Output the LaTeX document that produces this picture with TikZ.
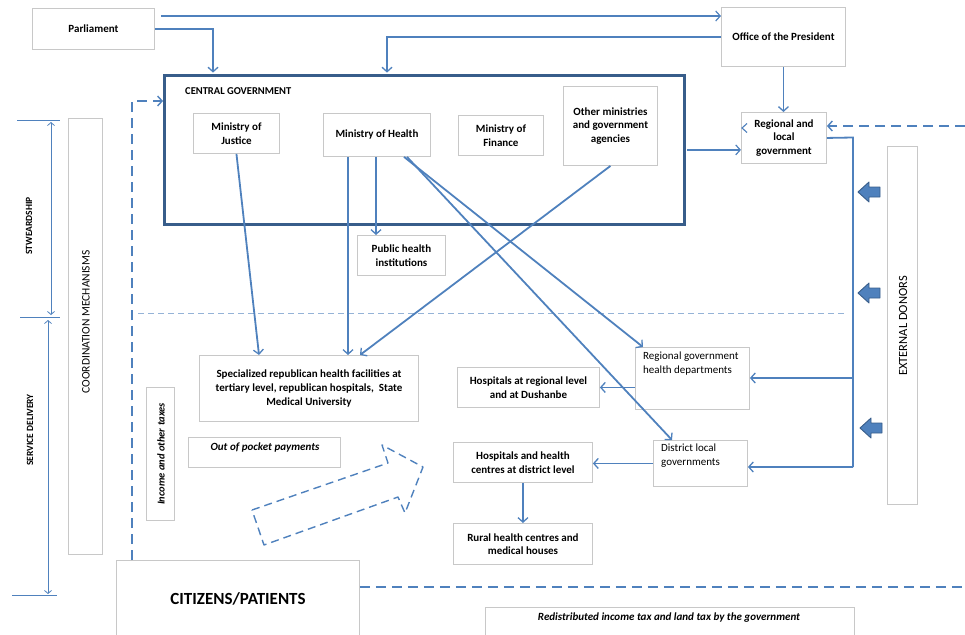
\documentclass[tikz,border=0pt]{standalone}
\usepackage{fontspec}
\setmainfont{Carlito}
\usetikzlibrary{arrows.meta}
\definecolor{lineblue}{RGB}{79,129,189}
\definecolor{darkblue}{RGB}{56,93,138}
\definecolor{boxgray}{RGB}{200,200,200}
\definecolor{lightdash}{RGB}{149,179,215}
\tikzset{
  box/.style={draw=boxgray, line width=0.9pt, fill=white, inner sep=2pt, anchor=north west,
    font=\bfseries\fontsize{11}{13.5}\selectfont, align=center},
  conn/.style={draw=lineblue, line width=1.8pt, -{Straight Barb[length=4.5pt,width=10pt,line width=1.3pt]}},
  thinconn/.style={draw=lineblue, line width=1.4pt, -{Straight Barb[length=4.5pt,width=10pt,line width=1.2pt]}},
  dconn/.style={draw=lineblue, line width=1.8pt, dash pattern=on 10pt off 6pt, -{Straight Barb[length=4.5pt,width=10pt,line width=1.4pt]}},
  plain/.style={draw=lineblue, line width=1.8pt},
  scaleline/.style={draw=lineblue, line width=0.8pt},
  scalearrow/.style={draw=lineblue, line width=0.8pt, {Straight Barb[length=3pt,width=7pt]}-{Straight Barb[length=3pt,width=7pt]}},
  donorarrow/.style={fill=lineblue, draw=darkblue, line width=0.9pt, line join=round},
  sidetext/.style={rotate=90, font=\bfseries\fontsize{9.5}{11}\selectfont},
}
\newcommand{\donorarrowat}[2]{%
  \filldraw[donorarrow] (#1,#2) -- ++(11,-10) -- ++(0,5) -- ++(11,0) -- ++(0,10) -- ++(-11,0) -- ++(0,5) -- cycle;}
\begin{document}
\begin{tikzpicture}[x=1pt,y=-1pt]
\useasboundingbox (0,0) rectangle (965,634);
\begin{scope}
\clip (0,0) rectangle (965,634);
% left scale marks
\draw[scaleline] (17,120) -- (60,120);
\draw[scaleline] (20,317) -- (60,317);
\draw[scaleline] (12,595) -- (57,595);
\draw[scalearrow] (51,122) -- (51,315);
\draw[scalearrow] (48,320) -- (48,594);
\node[sidetext] (stw) at (29,226) {STWEARDSHIP};
\node[sidetext] (sd) at (30,430) {SERVICE DELIVERY};
% coordination
\node[box, minimum width=34pt, minimum height=436pt] (coord) at (68,118) {};
\node[rotate=90, font=\fontsize{11.5}{13}\selectfont] (coordt) at (86,322) {COORDINATION MECHANISMS};
% light dashed separator
\coordinate (sepl) at (138,313);
\coordinate (sepr) at (845,313);
\draw[lightdash, line width=1pt, dash pattern=on 6pt off 4pt] (sepl) -- (sepr);
% boxes
\node[box, minimum width=122pt, minimum height=41pt] (parl) at (32,8) {Parliament};
\node[box, minimum width=124pt, minimum height=59pt] (office) at (721,7) {Office of the President};
\node[draw=darkblue, line width=2.8pt, anchor=north west, minimum width=520pt, minimum height=149pt] (cg) at (163,74) {};
\node[anchor=west, inner sep=0pt, font=\bfseries\fontsize{10.5}{12}\selectfont] (cgt) at (185,91) {CENTRAL GOVERNMENT};
\node[box, minimum width=86pt, minimum height=40pt] (just) at (193,113) {Ministry of\\Justice};
\node[box, minimum width=107pt, minimum height=43pt] (moh) at (323,113) {Ministry of Health};
\node[box, minimum width=85pt, minimum height=40pt] (fin) at (458,115) {Ministry of\\Finance};
\node[box, minimum width=94pt, minimum height=79pt] (other) at (563,86) {Other ministries\\and government\\agencies};
\node[box, minimum width=85pt, minimum height=51pt] (rlg) at (741,112) {Regional and\\local\\government};
\node[box, minimum width=88pt, minimum height=40pt] (phi) at (357,235) {Public health\\institutions};
\node[box, minimum width=219pt, minimum height=66pt, font=\bfseries\fontsize{11}{14}\selectfont] (spec) at (199,355) {Specialized republican health facilities at\\tertiary level, republican hospitals,\ \ State\\Medical University};
\node[box, minimum width=152pt, minimum height=30pt] (oop) at (188,437) {};
\node[font=\bfseries\itshape\fontsize{11}{13}\selectfont] (oopt) at (265,447) {Out of pocket payments};
\node[box, minimum width=28pt, minimum height=133pt] (inc) at (146,387) {};
\node[rotate=90, font=\bfseries\itshape\fontsize{10.5}{12}\selectfont] (inct) at (161,454) {Income and other taxes};
\node[box, minimum width=142pt, minimum height=40pt] (hrl) at (457,367) {Hospitals at regional level\\and at Dushanbe};
\node[box, minimum width=114pt, minimum height=62pt] (rghd) at (635,347) {};
\node[anchor=north west, align=left, inner sep=0pt, font=\fontsize{11}{13.3}\selectfont] (rghdt) at (643,352) {Regional government\\health departments};
\node[box, minimum width=139pt, minimum height=40pt] (hdl) at (453,442) {Hospitals and health\\centres at district level};
\node[box, minimum width=94pt, minimum height=46pt] (dlg) at (653,440) {};
\node[anchor=north west, align=left, inner sep=0pt, font=\fontsize{11}{13.3}\selectfont] (dlgt) at (661,444) {District local\\governments};
\node[box, minimum width=139pt, minimum height=41pt] (rural) at (453,523) {Rural health centres and\\medical houses};
\node[box, minimum width=30pt, minimum height=358pt] (ext) at (887,146) {};
\node[rotate=90, font=\fontsize{12.5}{14}\selectfont] (extt) at (903,326) {EXTERNAL DONORS};
\node[box, minimum width=243pt, minimum height=90pt] (cit) at (116,560) {};
\node[font=\bfseries\fontsize{17}{19}\selectfont] (citt) at (238,599) {CITIZENS/PATIENTS};
\node[box, minimum width=369pt, minimum height=40pt] (red) at (485,607) {};
\node[font=\bfseries\itshape\fontsize{11}{13}\selectfont] (redt) at (669,618) {Redistributed income tax and land tax by the government};
% top connectors
\coordinate (p1) at ([xshift=6pt,yshift=-8pt]parl.north east);
\draw[thinconn] (p1) -- (p1 -| office.west);
\draw[conn] (parl.east) -| ([xshift=50pt,yshift=1.4pt]cg.north west);
\draw[conn] (office.west) -| ([xshift=224pt,yshift=1.4pt]cg.north west);
\draw[conn] (office.south) -- (office.south |- rlg.north);
\draw[thinconn] ([xshift=1.4pt]cg.east) -- (cg.east -| rlg.west);
% dashed from right
\coordinate (dr) at (965,126);
\draw[dconn] (dr) -- (dr -| rlg.east);
\coordinate (stray) at (742,128);
\draw[lineblue, line width=1.1pt] ([xshift=5pt,yshift=-4.5pt]stray) -- (stray) -- ([xshift=5pt,yshift=4.5pt]stray);
% donor vertical bus
\coordinate (bt) at (853,137.5);
\coordinate (bb) at (853,467);
\coordinate (bm) at (853,378);
\draw[plain] (rlg.east) -- (bt) -- (bb);
\draw[conn] (bm) -- (bm -| rghd.east);
\draw[conn] (bb) -- (bb -| dlg.east);
\donorarrowat{858}{192}
\donorarrowat{858}{293}
\donorarrowat{860}{428}
% ministries connectors
\draw[conn] (just.south) -- ([xshift=60pt]spec.north west);
\draw[conn] ([xshift=25pt]moh.south west) -- ([xshift=25pt]moh.south west |- spec.north);
\draw[conn] ([xshift=53pt]moh.south west) -- ([xshift=53pt]moh.south west |- phi.north);
\draw[conn] ([xshift=81pt]moh.south west) -- ([xshift=8pt]rghd.north west);
\draw[conn] ([xshift=84pt]moh.south west) -- ([xshift=19pt]dlg.north west);
\draw[conn] (other.south) -- ([xshift=161pt]spec.north west);
\draw[conn] (hrl.east -| rghd.west) -- (hrl.east);
\draw[conn] (dlg.west) -- (dlg.west -| hdl.east);
\draw[conn] (hdl.south) -- (rural.north);
% left dashed feedback
\draw[dconn] ([xshift=16pt]cit.north west) |- ([yshift=-27pt]cg.north west);
\coordinate (db) at (965,587);
\draw[lineblue, line width=1.8pt, dash pattern=on 10pt off 6pt] (db -| cit.east) -- (db);
% hollow dashed arrow
\draw[lineblue, line width=1.4pt, dash pattern=on 8pt off 5pt, line join=round]
  (252,510) -- (388,463) -- (382,445) -- (423,467) -- (405,513) -- (398,497) -- (264,545) -- cycle;
\end{scope}
\end{tikzpicture}
\end{document}
